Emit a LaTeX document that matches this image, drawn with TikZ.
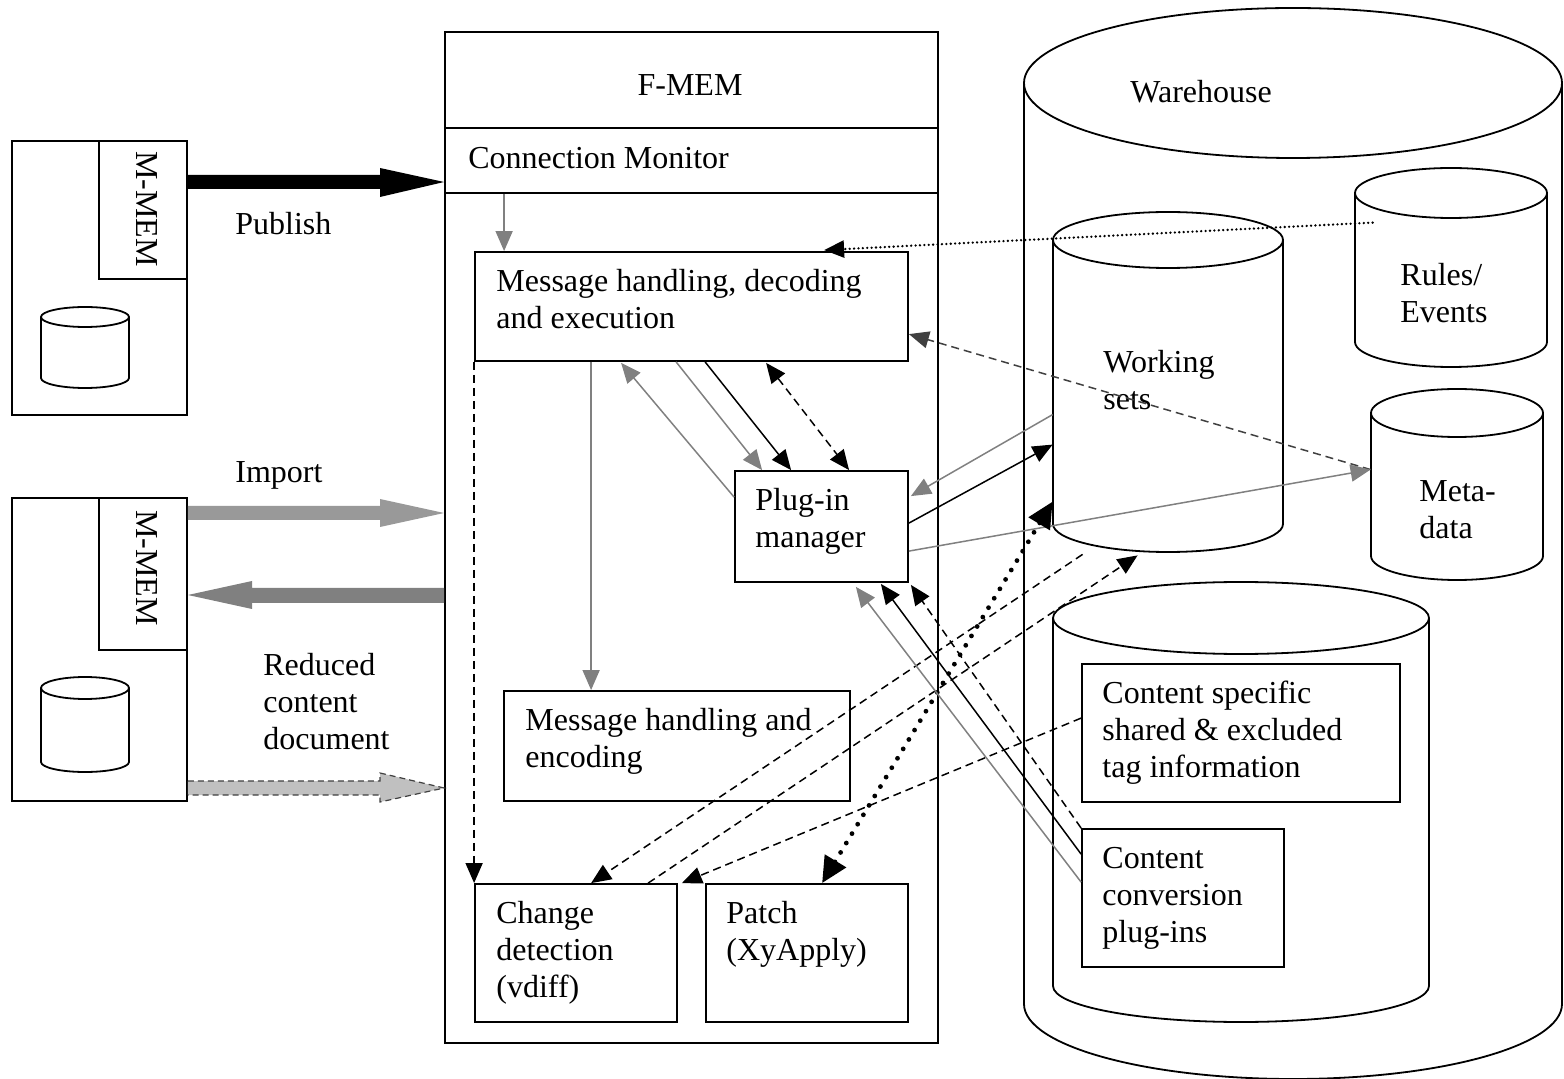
\documentclass[tikz,border=0pt]{standalone}
\usepackage{fontspec}
\setmainfont{Liberation Serif}
\usetikzlibrary{arrows.meta,calc,fit}
\definecolor{midgray}{HTML}{808080}
\definecolor{dkgray}{HTML}{404040}
\definecolor{impgray}{HTML}{999999}
\definecolor{redgray}{HTML}{C0C0C0}
\begin{document}
\begin{tikzpicture}[x=0.5pt,y=-0.5pt,
  box/.style={draw,line width=0.9pt,inner sep=0pt},
  area/.style={inner sep=0pt},
  txt/.style={anchor=base west,align=left,inner sep=0pt,font=\fontsize{16}{18.5}\selectfont},
  tip/.style={-{Triangle[length=10pt,width=8.5pt]}},
  tips/.style={{Triangle[length=10pt,width=8.5pt]}-{Triangle[length=10pt,width=8.5pt]}},
  bcon/.style={line width=0.75pt,black,tip},
  gcon/.style={line width=0.75pt,midgray,tip},
  dcon/.style={line width=0.75pt,black,dash pattern=on 4pt off 2.5pt,tip},
  dgcon/.style={line width=0.75pt,dkgray,dash pattern=on 4pt off 2.5pt,tip},
  dotcon/.style={line width=1.3pt,black,line cap=round,dash pattern=on 0pt off 2.2pt,tip},
  bigdot/.style={line width=2.4pt,black,line cap=round,dash pattern=on 0pt off 5.5pt,
     {Triangle[length=13pt,width=12pt]}-{Triangle[length=13pt,width=12pt]}},
  cyl/.style={line width=0.9pt}
]
\useasboundingbox (0,0) rectangle (1564,1079);

% ---------- Warehouse and its cylinders ----------
\draw[cyl] (1024,83) -- (1024,1004) arc[start angle=180,end angle=0,x radius=269,y radius=75] -- (1562,83);
\draw[cyl] (1293,83) ellipse[x radius=269,y radius=75];
\node[area,fit={(1024,8)(1562,1079)}] (wh) {};
\node[txt] (whT) at (1130,103) {Warehouse};

% working sets
\draw[cyl] (1053,240) -- (1053,524) arc[start angle=180,end angle=0,x radius=115,y radius=28] -- (1283,240);
\draw[cyl] (1168,240) ellipse[x radius=115,y radius=28];
\node[area,fit={(1053,212)(1283,552)}] (ws) {};
\node[txt] (wsT) at (1103,410) {Working\\sets};

% rules / events
\draw[cyl] (1355,193) -- (1355,342) arc[start angle=180,end angle=0,x radius=96,y radius=25] -- (1547,193);
\draw[cyl] (1451,193) ellipse[x radius=96,y radius=25];
\node[area,fit={(1355,168)(1547,367)}] (rules) {};
\node[txt] (rulesT) at (1400,323) {Rules/\\Events};

% meta-data
\draw[cyl] (1371,413) -- (1371,556) arc[start angle=180,end angle=0,x radius=86,y radius=24] -- (1543,413);
\draw[cyl] (1457,413) ellipse[x radius=86,y radius=24];
\node[area,fit={(1371,389)(1543,580)}] (meta) {};
\node[txt] (metaT) at (1419,539) {Meta-\\data};

% content cylinder
\draw[cyl] (1053,618) -- (1053,986) arc[start angle=180,end angle=0,x radius=188,y radius=36] -- (1429,618);
\draw[cyl] (1241,618) ellipse[x radius=188,y radius=36];
\node[area,fit={(1053,582)(1429,1022)}] (ct) {};
\node[box,fit={(1082,664)(1400,802)}] (spec) {};
\node[txt] (specT) at (1102,777) {Content specific\\shared \& excluded\\tag information};
\node[box,fit={(1082,829)(1284,967)}] (conv) {};
\node[txt] (convT) at (1102,942) {Content\\conversion\\plug-ins};

% ---------- F-MEM ----------
\node[box,fit={(445,32)(938,1043)}] (fmem) {};
\node[txt,anchor=base] (fmemT) at (690,96) {F-MEM};
\node[box,fit={(445,128)(938,193)}] (conmon) {};
\node[txt] (conmonT) at (468,169) {Connection Monitor};
\node[box,fit={(475,252)(908,361)}] (msg) {};
\node[txt] (msgT) at (496,329) {Message handling, decoding\\and execution};
\node[box,fit={(735,471)(908,582)}] (plug) {};
\node[txt] (plugT) at (755,548) {Plug-in\\manager};
\node[box,fit={(504,691)(850,801)}] (enc) {};
\node[txt] (encT) at (525,768) {Message handling and\\encoding};
\node[box,fit={(475,884)(677,1022)}] (chg) {};
\node[txt] (chgT) at (496,997) {Change\\detection\\(vdiff)};
\node[box,fit={(706,884)(908,1022)}] (patch) {};
\node[txt] (patchT) at (726,960) {Patch\\(XyApply)};

% ---------- M-MEMs ----------
\node[box,fit={(12,141)(187,415)}] (mmA) {};
\node[box,fit={(99,141)(187,279)}] (mmAin) {};
\node[txt,anchor=center,rotate=-90] (mmAT) at (146.5,209) {M-MEM};
\draw[cyl] (41,317) -- (41,378) arc[start angle=180,end angle=0,x radius=44,y radius=10] -- (129,317);
\draw[cyl] (85,317) ellipse[x radius=44,y radius=10];
\node[area,fit={(41,307)(129,388)}] (dbA) {};

\node[box,fit={(12,498)(187,801)}] (mmB) {};
\node[box,fit={(99,498)(187,650)}] (mmBin) {};
\node[txt,anchor=center,rotate=-90] (mmBT) at (146.5,568) {M-MEM};
\draw[cyl] (41,688) -- (41,762) arc[start angle=180,end angle=0,x radius=44,y radius=10] -- (129,688);
\draw[cyl] (85,688) ellipse[x radius=44,y radius=11];
\node[area,fit={(41,677)(129,772)}] (dbB) {};

% ---------- block arrows between M-MEMs and F-MEM ----------
\fill[black] (mmAin.east |- 0,175) -- (380,175) -- (380,168) -- (fmem.west |- 0,182) -- (380,197) -- (380,189) -- (mmAin.east |- 0,189) -- cycle;
\node[txt] (pubT) at (235,235) {Publish};

\fill[impgray] (mmBin.east |- 0,506) -- (380,506) -- (380,499) -- (fmem.west |- 0,513) -- (380,527) -- (380,520) -- (mmBin.east |- 0,520) -- cycle;
\node[txt] (impT) at (235,483) {Import};

\fill[midgray] (fmem.west |- 0,588) -- (252,588) -- (252,581) -- (mmBin.east |- 0,595) -- (252,609) -- (252,603) -- (fmem.west |- 0,603) -- cycle;

\fill[redgray] (mmB.east |- 0,781) -- (380,781) -- (380,773) -- (fmem.west |- 0,788) -- (380,802) -- (380,795) -- (mmB.east |- 0,795) -- cycle;
\draw[dkgray,line width=0.6pt,dash pattern=on 3pt off 2pt] (mmB.east |- 0,781) -- (380,781) -- (380,773) -- (fmem.west |- 0,788) -- (380,802) -- (380,795) -- (mmB.east |- 0,795);
\node[txt] (redT) at (263,749) {Reduced\\content\\document};

% ---------- connectors ----------
\draw[gcon] ($(conmon.south west)+(60,0)$) -- ($(msg.north west)+(30,0)$);
\draw[dotcon] ($(rules.north west)+(18,55)$) -- ($(msg.north west)+(350,-1)$);
\draw[dgcon] ($(meta.north west)+(0,81)$) -- ($(msg.north east)+(0,83)$);
\draw[gcon] ($(ws.north west)+(0,203)$) -- ($(plug.north east)+(2,26)$);
\draw[bcon] ($(plug.north east)+(0,53)$) -- ($(ws.north west)+(0,233)$);
\draw[gcon] ($(plug.north east)+(0,81)$) -- ($(meta.north west)+(0,81)$);
\draw[bigdot] ($(patch.north west)+(117,0)$) -- ($(ws.north west)+(0,290)$);
\draw[dcon] ($(ws.south west)+(30,2)$) -- ($(chg.north west)+(117,0)$);
\draw[dcon] ($(chg.north west)+(174,0)$) -- ($(ws.south west)+(85,3)$);
\draw[dcon] ($(spec.north west)+(0,55)$) -- ($(chg.north east)+(4,0)$);
\draw[dcon] (conv.north west) -- ($(plug.south east)+(2,2)$);
\draw[bcon] ($(conv.north west)+(0,26)$) -- ($(plug.south east)+(-28,1)$);
\draw[gcon] ($(conv.north west)+(0,54)$) -- ($(plug.south east)+(-53,4)$);
\draw[dcon] (msg.south west) -- (chg.north west);
\draw[gcon] ($(msg.south west)+(117,0)$) -- ($(enc.north west)+(88,0)$);
\draw[gcon] ($(plug.north west)+(0,27)$) -- ($(msg.south west)+(147,1)$);
\draw[gcon] ($(msg.south west)+(202,0)$) -- ($(plug.north west)+(28,0)$);
\draw[bcon] ($(msg.south west)+(231,0)$) -- ($(plug.north west)+(57,0)$);
\draw[dcon,tips] ($(msg.south west)+(292,1)$) -- ($(plug.north west)+(115,0)$);
\end{tikzpicture}
\end{document}
